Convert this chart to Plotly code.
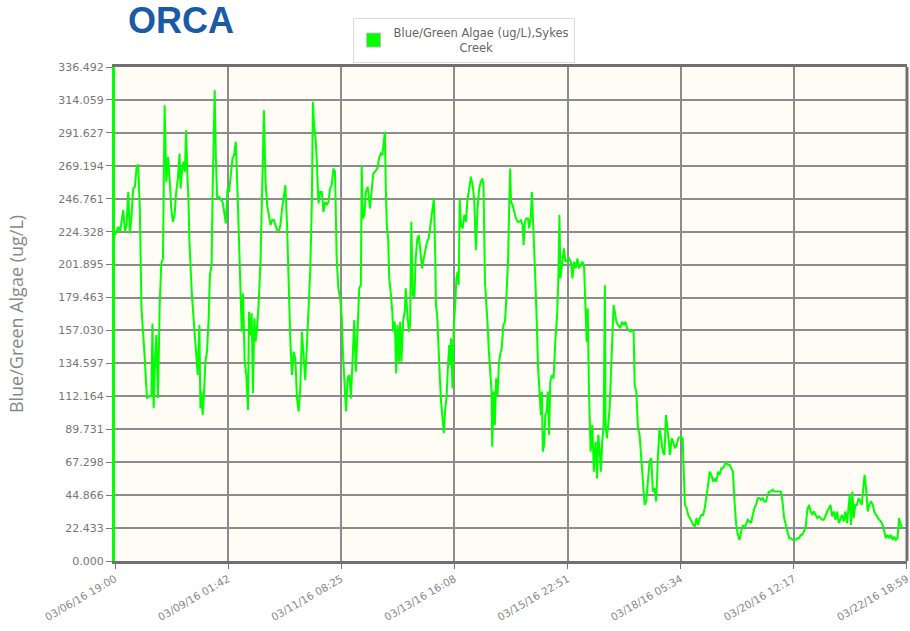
import plotly.graph_objects as go
import pandas as pd

# hours elapsed since 03/06/16 19:00
hours = [0, 0.8, 1.6, 2.4, 3.2, 4.0, 4.8, 5.6, 6.4, 7.2, 8.0, 8.8, 9.6, 10.4, 11.2, 12.0, 12.8, 13.6, 14.4, 14.9, 15.5, 16.5, 17.6, 18.1, 18.7, 19.4, 20.0, 20.8, 21.6, 22.4, 23.2, 23.7, 24.0, 24.8, 25.6, 26.4, 27.2, 28.0, 28.8, 29.6, 30.4, 31.2, 31.7, 32.5, 33.1, 33.8, 34.4, 35.0, 35.5, 36.0, 36.5, 37.1, 37.9, 38.9, 40.0, 40.8, 41.3, 41.8, 42.4, 43.0, 43.7, 44.5, 45.3, 45.9, 46.7, 47.2, 47.7, 48.2, 48.8, 49.4, 50.4, 52.0, 52.8, 53.6, 54.4, 55.2, 56.0, 56.8, 57.6, 58.4, 59.2, 60.0, 60.8, 61.3, 61.9, 62.7, 63.5, 64.3, 64.8, 65.6, 66.1, 66.7, 67.4, 68.0, 68.8, 69.6, 70.4, 70.9, 71.5, 72.0, 72.8, 73.6, 74.4, 75.2, 76.0, 76.8, 77.6, 78.4, 79.2, 80.0, 80.8, 81.6, 82.4, 83.2, 84.0, 84.8, 85.6, 86.4, 87.2, 88.0, 88.8, 89.6, 90.4, 91.2, 92.0, 92.8, 93.6, 94.4, 95.2, 95.7, 96.3, 97.0, 97.6, 98.4, 99.2, 100.0, 100.8, 101.6, 102.4, 103.2, 104.0, 104.8, 105.6, 106.4, 107.2, 108.0,
         108.9, 109.7, 110.2, 110.9, 111.7, 112.5, 113.3, 114.1, 114.9, 115.7, 116.5, 117.3, 118.1, 118.9, 119.3, 119.8, 120.6, 121.3, 122.2, 123.3, 124.1, 124.9, 125.7, 126.9, 127.7, 128.5, 129.3, 129.9, 130.5, 131.0, 131.5, 132.1, 132.6, 133.3, 134.1, 134.5, 135.3, 136.0, 136.6, 137.3, 137.9, 138.5, 139.3, 140.1, 140.6, 141.3, 142.1, 142.7, 143.3, 144.0, 144.8, 145.4, 146.2, 146.9, 147.7, 148.5, 149.3, 150.1, 150.9, 151.7, 152.5, 153.4, 154.2, 154.9, 155.2, 155.8, 156.5, 157.1, 157.7, 158.4, 159.0, 159.7, 160.3, 160.9, 161.6, 162.1, 162.5, 163.2, 163.8, 164.5, 165.1, 165.7, 166.2, 166.7, 167.3, 168.1, 168.9, 169.7, 170.5, 171.3, 172.1, 172.9, 173.7, 174.5, 175.3, 176.1, 176.9, 177.7, 178.2, 178.9, 179.5, 180.2, 180.8, 181.4, 182.1, 182.4, 183.1, 183.7, 184.3, 185.0, 185.6, 186.2, 187.0, 187.8, 188.6, 189.4, 190.1, 190.6, 191.1, 191.5, 192.3, 193.1, 193.9, 194.7, 195.5, 196.3, 197.1, 197.6, 198.2, 198.9, 199.7, 200.3, 201.0, 201.6, 202.2, 203.0, 203.8, 204.6, 205.3, 205.9, 206.4, 206.9, 207.5, 208.1, 208.8, 209.3, 209.9, 210.5, 211.3, 212.1, 213.0, 213.8, 214.4, 214.9, 215.4, 215.9, 216.5, 217.1, 217.8,
         219.6, 220.4, 221.2, 222.0, 222.8, 223.6, 224.4, 225.2, 226.0, 226.8, 227.6, 228.1, 228.6, 229.2, 230.0, 230.8, 231.6, 232.4, 233.1, 233.7, 234.4, 235.0, 235.6, 236.3, 236.9, 237.2, 237.9, 238.5, 239.2, 239.8, 240.4, 241.1, 241.7, 242.4, 243.3, 244.3, 245.2, 246.0, 246.8, 247.6, 248.4, 249.2, 250.0, 250.8, 251.3, 252.1, 252.9, 253.7, 254.5, 255.3, 256.1, 256.9, 257.7, 258.5, 259.3, 260.1, 260.9, 261.7, 262.5, 263.3, 264.1, 264.9, 265.7, 266.4, 267.0, 267.6, 268.4, 269.2, 269.9, 270.8, 271.6, 272.4, 273.6, 274.5, 275.2, 275.6, 276.4, 277.2, 278.0, 278.8, 279.6, 280.4, 281.2, 282.0, 282.8, 283.6, 284.4, 285.2, 286.0, 286.8, 287.6, 288.4, 289.2, 290.0, 290.8, 291.6, 292.4, 293.2, 294.0, 294.8, 295.6, 296.4, 297.2, 298.0, 298.8, 299.6, 300.4, 301.2, 302.0, 302.8, 303.6, 304.4, 305.2, 306.0, 306.8, 307.6, 308.4, 309.2, 310.0, 310.8, 311.6, 312.4, 313.2, 314.0, 314.8, 315.6, 316.4, 317.2, 318.0, 318.8, 319.6, 320.4, 321.2, 322.0, 322.8, 323.6, 324.4, 325.2, 326.0, 326.8, 327.6, 328.4, 329.2, 330.0, 330.8, 331.6, 332.4, 333.2, 334.0, 334.8, 335.6, 336.4, 337.2, 338.0, 338.8, 339.6, 340.4, 341.2, 342.0, 342.8, 343.6, 344.4, 345.2, 346.0, 346.8, 347.6, 348.4, 349.2, 350.0, 350.8, 351.6, 352.4, 353.2, 354.0, 354.8, 355.3, 355.9, 356.6, 357.2, 358.0, 358.8, 359.6, 360.4, 361.1, 361.7, 362.5, 363.2, 364.0, 364.8, 365.6, 366.4, 367.2, 368.0, 368.8, 369.6, 370.4, 371.2, 372.0, 372.8, 373.6, 374.4, 375.2, 376.0, 376.8, 377.6, 378.4, 379.2, 380.0, 380.8]

algae = [221.9, 224.2, 227.6, 224.2, 231.0, 239.0, 224.2, 228.8, 251.4, 223.1, 235.6, 253.7, 254.8, 267.3, 270.0, 240.1, 172.1, 157.3, 138.0, 124.4, 110.8, 112.0, 113.1, 161.8, 104.0, 138.0, 153.9, 110.8, 174.3, 202.7, 206.1, 274.1, 310.4, 258.2, 275.3, 260.5, 240.1, 231.0, 235.6, 251.4, 260.5, 277.5, 253.7, 267.3, 271.9, 265.1, 293.4, 262.8, 246.9, 217.4, 194.7, 183.4, 167.5, 149.4, 126.7, 160.7, 104.0, 115.4, 99.5, 113.1, 135.8, 142.6, 165.3, 194.7, 201.5, 251.4, 296.8, 320.6, 274.1, 246.9, 248.0, 244.6, 237.8, 229.9, 253.7, 251.4, 262.8, 274.1, 276.4, 285.5, 253.7, 217.4, 183.4, 156.2, 182.3, 135.8, 126.7, 102.9, 169.8, 153.9, 168.7, 114.3, 165.3, 149.4, 160.7, 178.9, 206.1, 231.0, 274.1, 307.0, 258.2, 242.4, 235.6, 228.8, 232.2, 232.2, 228.8, 225.4, 224.2, 228.8, 240.1, 249.2, 256.0, 228.8, 183.4, 149.4, 126.7, 142.6, 138.0, 110.8, 101.8, 117.6, 156.2, 142.6, 123.3, 147.1, 172.1, 197.0, 244.6, 312.7, 296.8, 287.7, 271.9, 243.5, 251.4, 251.4, 237.8, 244.6, 242.4, 244.6, 253.7, 256.0, 267.3, 265.1, 206.1, 185.7,
         178.9, 165.3, 142.6, 126.7, 101.8, 124.4, 126.7, 110.8, 138.0, 164.1, 129.0, 160.7, 185.7, 188.0, 269.6, 233.3, 235.6, 251.4, 254.8, 240.1, 253.7, 264.0, 265.1, 267.3, 274.1, 277.5, 276.4, 285.5, 292.3, 251.4, 226.5, 219.7, 192.5, 183.4, 169.8, 156.2, 163.0, 127.8, 160.7, 135.8, 163.0, 135.8, 163.0, 169.8, 185.7, 169.8, 156.2, 160.7, 231.0, 181.1, 180.0, 206.1, 219.7, 222.0, 208.4, 199.3, 206.1, 212.9, 217.4, 219.7, 228.8, 237.8, 246.9, 206.1, 174.3, 167.5, 135.8, 124.4, 108.6, 97.3, 87.0, 104.0, 110.8, 129.0, 147.1, 133.5, 151.7, 117.6, 158.5, 174.3, 192.5, 197.0, 188.0, 246.9, 228.8, 226.5, 235.6, 231.0, 246.9, 253.7, 261.7, 256.0, 246.9, 211.8, 240.1, 253.7, 258.2, 260.5, 256.0, 190.2, 178.9, 160.7, 142.6, 126.7, 115.4, 77.9, 115.4, 92.7, 124.4, 113.1, 133.5, 140.4, 144.9, 160.7, 163.0, 183.4, 206.1, 240.1, 267.3, 244.6, 242.4, 237.8, 233.3, 231.0, 231.0, 232.2, 228.8, 215.2, 231.0, 233.3, 233.3, 226.5, 233.3, 251.4, 224.2, 201.5, 169.8, 131.2, 115.4, 99.5, 115.4, 74.5, 79.0, 99.5, 101.8, 115.4, 85.9, 122.2, 126.7, 124.4, 151.7, 167.5, 192.5, 235.6, 192.5, 201.5, 206.1, 212.9, 203.8,
         206.1, 203.8, 192.5, 203.8, 199.3, 206.1, 199.3, 201.5, 203.8, 201.5, 174.3, 149.4, 172.1, 115.4, 74.5, 92.7, 60.9, 81.3, 56.3, 85.9, 74.5, 60.9, 81.3, 92.7, 187.9, 92.7, 83.6, 92.7, 104.0, 126.7, 149.4, 174.3, 169.8, 163.0, 160.7, 158.5, 163.0, 160.7, 163.0, 158.5, 157.3, 156.2, 157.3, 156.2, 120.0, 115.4, 90.5, 85.9, 70.0, 56.3, 38.2, 40.5, 56.3, 67.7, 70.0, 47.3, 49.6, 40.5, 70.0, 90.5, 83.6, 74.5, 72.2, 99.5, 92.7, 81.3, 72.2, 83.6, 81.3, 76.8, 79.0, 83.6, 84.8, 83.6, 51.9, 38.2, 36.0, 31.4, 29.2, 26.9, 24.6, 23.5, 29.2, 24.6, 29.2, 31.4, 31.4, 36.0, 42.8, 51.9, 60.9, 58.7, 54.1, 56.3, 54.1, 60.9, 58.7, 63.2, 63.2, 65.5, 67.7, 65.5, 65.5, 63.2, 60.9, 40.5, 24.6, 17.8, 14.4, 20.1, 24.6, 22.3, 25.8, 28.1, 26.9, 25.8, 31.4, 36.0, 38.2, 42.8, 42.8, 41.7, 42.8, 40.5, 40.5, 45.1, 47.3, 47.3, 48.5, 47.3, 47.3, 47.3, 47.3, 47.3, 40.5, 29.2, 24.6, 20.1, 15.5, 15.5, 14.4, 14.4, 14.4, 15.5, 15.5, 17.8, 17.8, 20.1, 23.5, 35.0, 38.2, 33.7, 31.4, 33.7, 31.4, 29.2, 30.3, 29.2, 28.1, 28.1, 31.4, 33.7, 36.0, 38.2, 30.3, 33.7, 28.1, 33.7, 25.8, 29.2, 31.4, 26.9, 33.7, 25.8, 36.0, 45.1, 24.6, 47.3, 29.2, 38.2, 38.2, 42.8, 40.5, 38.2, 47.3, 58.7, 49.6, 33.7, 38.2, 40.5, 38.2, 33.7, 31.4, 29.2, 28.1, 26.9, 24.6, 20.1, 15.5, 17.8, 15.5, 17.8, 14.4, 16.6, 14.4, 15.5, 29.2, 24.6, 22.3]

if len(hours) != len(algae):
    raise ValueError(f"length mismatch {len(hours)} vs {len(algae)}")

x_tick_labels = ['03/06/16 19:00', '03/09/16 01:42', '03/11/16 08:25', '03/13/16 16:08',
                 '03/15/16 22:51', '03/18/16 05:34', '03/20/16 12:17', '03/22/16 18:59']
y_tick_labels = ['0.000', '22.433', '44.866', '67.298', '89.731', '112.164', '134.597', '157.030',
                 '179.463', '201.895', '224.328', '246.761', '269.194', '291.627', '314.059', '336.492']

series_name = 'Blue/Green Algae (ug/L),Sykes'
series_name2 = 'Creek'

start = pd.Timestamp('2016-03-06 19:00')
# end label is in daylight time (clock moved forward 03/13); elapsed range is one hour shorter
end = pd.Timestamp('2016-03-22 17:59')
times = [start + pd.Timedelta(hours=h) for h in hours]
tick_times = list(pd.date_range(start, end, periods=len(x_tick_labels)))

fig = go.Figure()
fig.add_trace(go.Scatter(x=times, y=algae, mode='lines',
                         line=dict(color='#00FF00', width=2), showlegend=False))
fig.add_trace(go.Scatter(x=[None], y=[None], mode='markers',
                         marker=dict(symbol='square', size=14, color='#00FF00',
                                     line=dict(color='#bbbbbb', width=1)),
                         name=series_name + '<br>' + '&nbsp;' * 18 + series_name2))

grid = '#8c8c8c'
fig.update_layout(
    width=910, height=631,
    margin=dict(l=115, r=3, t=67, b=70),
    paper_bgcolor='white', plot_bgcolor='#FEFCF4',
    font=dict(family='DejaVu Sans', color='#777777'),
    showlegend=True,
    legend=dict(x=0.300, y=1.100, xanchor='left', yanchor='top',
                bgcolor='white', bordercolor='#dddddd', borderwidth=1,
                font=dict(size=11.5, color='#666666'), itemwidth=30),
    xaxis=dict(type='date', range=[start, end + pd.Timedelta(seconds=30)],
               tickvals=tick_times, ticktext=x_tick_labels, ticklabeloverflow='allow',
               tickangle=-30, tickfont=dict(size=10.5, color='#888888'), automargin=False,
               showgrid=True, gridcolor=grid, gridwidth=1.5,
               showline=True, linecolor='#707070', linewidth=3, mirror=True,
               ticks='outside', ticklen=5, tickcolor='#777777', zeroline=False),
    yaxis=dict(range=[0, 336.492], tickvals=[float(t) for t in y_tick_labels], ticktext=y_tick_labels,
               tickfont=dict(size=11, color='#777777'), automargin=False,
               showgrid=True, gridcolor=grid, gridwidth=1.5,
               showline=True, linecolor='#00FF00', linewidth=3,
               ticks='outside', ticklen=6, tickcolor='#777777', zeroline=False,
               title=dict(text='Blue/Green Algae (ug/L)', font=dict(family='Open Sans', size=18, color='#888888'),
                          standoff=30)),
    shapes=[dict(type='line', xref='paper', yref='paper', x0=1, x1=1, y0=0, y1=1,
                 line=dict(color='#707070', width=3))],
    annotations=[dict(text='<b>ORCA</b>', xref='paper', yref='paper', x=0.083, y=1.094,
                      xanchor='center', yanchor='middle', showarrow=False,
                      font=dict(family='Liberation Sans', size=36, color='#1a5aa6'))],
)

fig.write_html('out.html', config={'displayModeBar': False},
               post_script="document.body.style.margin='0';document.body.style.overflow='hidden';")
